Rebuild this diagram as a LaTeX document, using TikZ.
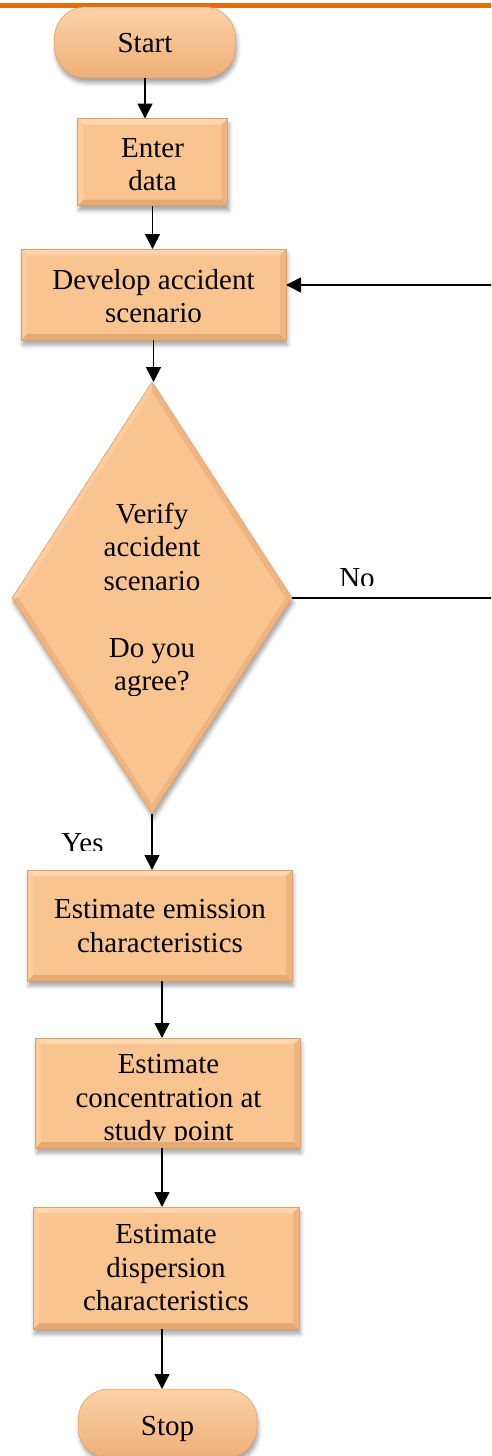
\documentclass[tikz,border=0pt]{standalone}
\usepackage{fontspec}
\setmainfont{Liberation Serif}
\usetikzlibrary{arrows.meta,shapes.geometric,shadows.blur}

\definecolor{boxfill}{HTML}{FAC491}
\definecolor{boxedge}{HTML}{DCA06A}
\definecolor{bevlight}{HTML}{FDD6AE}
\definecolor{bevdark}{HTML}{E5A972}
\definecolor{bevleft}{HTML}{FCCC9C}
\definecolor{bevright}{HTML}{EFB47F}
\definecolor{termtop}{HTML}{FCD2A6}
\definecolor{termbot}{HTML}{EEAF78}
\definecolor{rulecol}{HTML}{E46C0A}

\tikzset{
  lbl/.style={font=\fontsize{29}{33.5}\selectfont, align=center, inner sep=0pt},
  softshadow/.style={blur shadow={shadow xshift=1.5pt, shadow yshift=-5pt,
      shadow blur radius=4pt, shadow opacity=35}},
  % bevelled edges of a process box
  bevel/.style={path picture={
      \fill[bevlight] (path picture bounding box.north west) -- (path picture bounding box.north east)
        -- ([xshift=-6pt,yshift=-6pt]path picture bounding box.north east)
        -- ([xshift=6pt,yshift=-6pt]path picture bounding box.north west) -- cycle;
      \fill[bevdark] (path picture bounding box.south west) -- (path picture bounding box.south east)
        -- ([xshift=-6pt,yshift=6pt]path picture bounding box.south east)
        -- ([xshift=6pt,yshift=6pt]path picture bounding box.south west) -- cycle;
      \fill[bevleft] (path picture bounding box.north west) -- (path picture bounding box.south west)
        -- ([xshift=6pt,yshift=6pt]path picture bounding box.south west)
        -- ([xshift=6pt,yshift=-6pt]path picture bounding box.north west) -- cycle;
      \fill[bevright] (path picture bounding box.north east) -- (path picture bounding box.south east)
        -- ([xshift=-6pt,yshift=6pt]path picture bounding box.south east)
        -- ([xshift=-6pt,yshift=-6pt]path picture bounding box.north east) -- cycle;
  }},
  % bevelled facets of the decision diamond
  diabevel/.style={path picture={
      \fill[bevleft] (path picture bounding box.north) -- (path picture bounding box.west)
        -- ([xshift=7pt]path picture bounding box.west)
        -- ([yshift=-10pt]path picture bounding box.north) -- cycle;
      \fill[boxfill] ([yshift=-10pt]path picture bounding box.north)
        -- ([xshift=-7pt]path picture bounding box.east)
        -- ([yshift=10pt]path picture bounding box.south)
        -- ([xshift=7pt]path picture bounding box.west) -- cycle;
  }},
  procbox/.style={rectangle, fill=boxfill, draw=boxedge, line width=0.5pt,
      inner sep=0pt, outer sep=0pt, softshadow, bevel},
  terminal/.style={rectangle, rounded corners=31pt, draw=boxedge, line width=0.5pt,
      top color=termtop, middle color=boxfill, bottom color=termbot,
      inner sep=0pt, outer sep=0pt, softshadow},
  decision/.style={diamond, fill=bevright, draw=boxedge, line width=0.5pt,
      inner sep=0pt, outer sep=0pt, minimum width=280pt, minimum height=432pt,
      softshadow, diabevel},
  arr/.style={line width=1.6pt, -{Triangle[length=15pt,width=15pt]}},
}

\begin{document}
\begin{tikzpicture}[x=1pt, y=-1pt]
\useasboundingbox (0,0) rectangle (491,1456);
\clip (0,0) rectangle (491,1456);

% rule across the top
\fill[rulecol] (0,3) rectangle (491,8);

% shapes
\node[terminal, minimum width=181pt, minimum height=71pt] (start) at (145,42.5) {};
\node[procbox, minimum width=150pt, minimum height=87pt] (enter) at (152.5,162) {};
\node[procbox, minimum width=265pt, minimum height=91pt] (dev) at (153.5,294.5) {};
\node[decision] (dia) at (152,598) {};
\node[procbox, minimum width=265pt, minimum height=111pt] (emis) at (159.5,925.5) {};
\node[procbox, minimum width=265pt, minimum height=110pt] (conc) at (167.5,1093) {};
\node[procbox, minimum width=266pt, minimum height=122pt] (disp) at (166,1268) {};
\node[terminal, minimum width=179pt, minimum height=69pt] (stop) at (167.5,1423.5) {};

% texts
\node[lbl] (tstart) at (145,43.5) {Start};
\node[lbl] (tenter) at (152.5,164.5) {Enter\\data};
\node[lbl] (tdev) at (153.5,296) {Develop accident\\scenario};
\begin{scope}
  \clip (0,480) rectangle (491,695);
  \node[lbl] (tdia) at (152,600) {Verify\\accident\\scenario\\\strut\\Do you\\agree?};
\end{scope}
\node[lbl] (temis) at (160,926) {Estimate emission\\characteristics};
\begin{scope}
  \clip (0,1040) rectangle (491,1140);
  \node[lbl] (tconc) at (168.5,1101) {Estimate\\concentration at\\study point};
\end{scope}
\node[lbl] (tdisp) at (166,1268) {Estimate\\dispersion\\characteristics};
\node[lbl] (tstop) at (167.5,1428.5) {Stop};

% branch labels
\begin{scope}
  \clip (300,550) rectangle (420,585);
  \node[lbl, anchor=base] (lno) at (357,587) {No};
\end{scope}
\begin{scope}
  \clip (40,820) rectangle (130,850);
  \node[lbl, anchor=base] (lyes) at (82.5,852) {Yes};
\end{scope}

% connectors
\coordinate (rim) at (495,285);
\coordinate (c1) at ([xshift=2.5pt]emis.south);
\coordinate (c2) at ([xshift=-5.5pt]conc.south);
\coordinate (c3) at ([xshift=-4pt]disp.south);
\draw[arr] (start.south) -- (start.south |- enter.north);
\draw[arr] (enter.south) -- (enter.south |- dev.north);
\draw[arr] (dev.south) -- (dev.south |- dia.north);
\draw[arr] (dia.south) -- (dia.south |- emis.north);
\draw[arr] (c1) -- (c1 |- conc.north);
\draw[arr] (c2) -- (c2 |- disp.north);
\draw[arr] (c3) -- (c3 |- stop.north);
\draw[arr] (dia.east) -- (dia.east -| rim) -- (rim) -- (dev.east |- rim);
\end{tikzpicture}
\end{document}
